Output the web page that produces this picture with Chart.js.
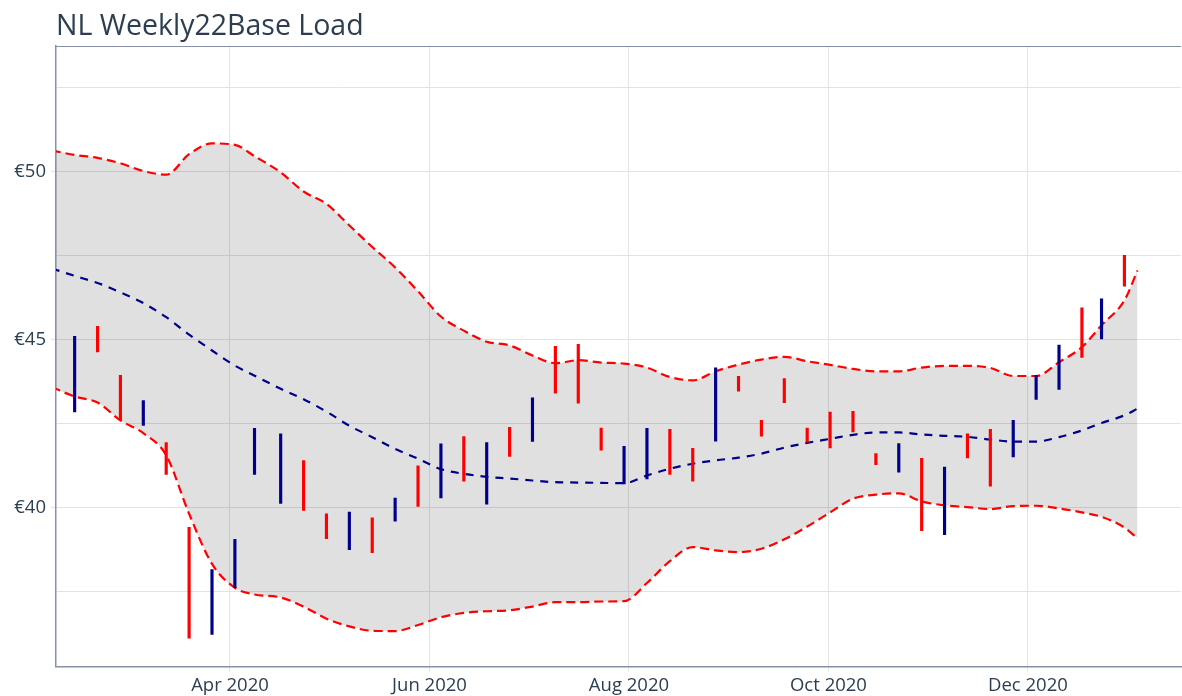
<!DOCTYPE html>
<html><head><meta charset="utf-8">
<script src="https://cdn.jsdelivr.net/npm/chart.js@4"></script>
<style>html,body{margin:0;padding:0;background:#fff}#wrap{width:1182px;height:696px;position:relative}</style>
</head><body><div id="wrap"><canvas id="c" width="1182" height="696"></canvas></div>
<script>
const chartTitle = "NL Weekly22Base Load";

// Weekly bars (high/low range) and direction
const barDates = ["2020-02-13","2020-02-20","2020-02-27","2020-03-05","2020-03-12","2020-03-19","2020-03-26","2020-04-02","2020-04-08","2020-04-16","2020-04-23","2020-04-30","2020-05-07","2020-05-14","2020-05-21","2020-05-28","2020-06-04","2020-06-11","2020-06-18","2020-06-25","2020-07-02","2020-07-09","2020-07-16","2020-07-23","2020-07-30","2020-08-06","2020-08-13","2020-08-20","2020-08-27","2020-09-03","2020-09-10","2020-09-17","2020-09-24","2020-10-01","2020-10-08","2020-10-15","2020-10-22","2020-10-29","2020-11-05","2020-11-12","2020-11-19","2020-11-26","2020-12-03","2020-12-10","2020-12-17","2020-12-23","2020-12-30"];
const barHighs = [45.09,45.39,43.93,43.18,41.93,39.41,38.15,39.05,42.35,42.19,41.39,39.81,39.86,39.69,40.28,41.24,41.89,42.11,41.93,42.38,43.26,44.79,44.85,42.36,41.82,42.35,42.32,41.76,44.15,43.90,42.59,43.83,42.36,42.84,42.86,41.60,41.90,41.46,41.20,42.19,42.32,42.59,43.93,44.83,45.94,46.21,47.50];
const barLows  = [42.84,44.63,42.59,42.44,40.98,36.11,36.22,37.61,40.98,40.12,39.91,39.07,38.74,38.65,39.59,40.03,40.28,40.78,40.10,41.52,41.96,43.40,43.10,41.70,40.70,40.85,40.98,40.78,41.97,43.46,42.12,43.12,41.94,41.77,42.25,41.27,41.05,39.31,39.19,41.47,40.63,41.50,43.21,43.51,44.46,45.01,46.58];
const barMoves = ["up","down","down","up","down","down","up","up","up","up","down","down","up","down","up","down","up","down","up","down","up","down","down","down","up","up","down","down","up","down","down","down","down","down","down","down","up","down","up","down","down","up","up","up","down","up","down"];

// Band (upper / middle / lower)
const bandDates = ["2020-02-06","2020-02-13","2020-02-20","2020-02-27","2020-03-05","2020-03-12","2020-03-19","2020-03-26","2020-04-02","2020-04-08","2020-04-16","2020-04-23","2020-04-30","2020-05-07","2020-05-14","2020-05-21","2020-05-28","2020-06-04","2020-06-11","2020-06-18","2020-06-25","2020-07-02","2020-07-09","2020-07-16","2020-07-23","2020-07-30","2020-08-06","2020-08-13","2020-08-20","2020-08-27","2020-09-03","2020-09-10","2020-09-17","2020-09-24","2020-10-01","2020-10-08","2020-10-15","2020-10-22","2020-10-29","2020-11-05","2020-11-12","2020-11-19","2020-11-26","2020-12-03","2020-12-10","2020-12-17","2020-12-23","2020-12-30","2021-01-03"];
const bandUpper  = [50.62,50.49,50.40,50.24,50.01,49.90,50.51,50.83,50.79,50.45,49.97,49.40,49.03,48.39,47.75,47.14,46.43,45.68,45.26,44.93,44.82,44.52,44.29,44.38,44.31,44.28,44.16,43.88,43.78,44.05,44.25,44.40,44.48,44.35,44.24,44.12,44.05,44.05,44.16,44.21,44.21,44.15,43.91,43.91,44.32,44.77,45.42,46.16,47.05];
const bandMiddle = [47.11,46.89,46.68,46.40,46.08,45.66,45.14,44.67,44.22,43.92,43.53,43.22,42.85,42.43,42.09,41.74,41.45,41.14,41.00,40.91,40.86,40.80,40.75,40.74,40.73,40.72,40.95,41.15,41.30,41.40,41.48,41.60,41.78,41.92,42.04,42.16,42.23,42.23,42.17,42.13,42.10,42.02,41.96,41.96,42.09,42.29,42.51,42.74,42.94];
const bandLower  = [43.58,43.30,43.12,42.59,42.21,41.55,39.81,38.32,37.61,37.41,37.32,37.05,36.69,36.46,36.33,36.32,36.50,36.73,36.86,36.91,36.94,37.05,37.18,37.18,37.20,37.21,37.75,38.40,38.82,38.72,38.67,38.77,39.05,39.43,39.85,40.26,40.38,40.42,40.18,40.06,40.01,39.95,40.04,40.05,39.97,39.85,39.72,39.40,39.08];

// Axis ticks
const xTickDates  = ["2020-04-01","2020-06-01","2020-08-01","2020-10-01","2020-12-01"];
const xTickLabels = ["Apr 2020","Jun 2020","Aug 2020","Oct 2020","Dec 2020"];
const yTickValues = [37.5,40,42.5,45,47.5,50,52.5];
const yTickLabels = ["","€40","","€45","","€50",""];

const DAY0 = Date.UTC(2020,0,1);
function dayNum(s){const p=s.split('-').map(Number);return (Date.UTC(p[0],p[1]-1,p[2])-DAY0)/864e5;}
const mid = s => dayNum(s) + 0.5;

const RED = '#ff0000', NAVY = '#00008b';
const TXT = '#2c3e50', AXIS = '#8591a3', GRID = '#e3e3e3';

const barData = barDates.map((d,i)=>({x: mid(d), y: [barLows[i], barHighs[i]]}));
const line = arr => bandDates.map((d,i)=>({x: mid(d), y: arr[i]}));

const titlePlugin = {
  id: 'titleAndFrame',
  afterDraw(chart){
    const {ctx, chartArea:a} = chart;
    ctx.save();
    ctx.strokeStyle = AXIS; ctx.lineWidth = 1.2;
    ctx.beginPath(); ctx.moveTo(a.left, a.top + 0.5); ctx.lineTo(a.right, a.top + 0.5); ctx.stroke();
    ctx.font = '28.5px "Open Sans"'; ctx.fillStyle = TXT; ctx.textBaseline = 'alphabetic'; ctx.textAlign = 'left';
    ctx.fillText(chartTitle, 56, 35);
    ctx.restore();
  }
};

new Chart(document.getElementById('c'), {
  type: 'bar',
  data: {
    datasets: [
      {type:'bar', data: barData, backgroundColor: barMoves.map(m => m === 'up' ? NAVY : RED), borderWidth: 0, barThickness: 2.5, order: 0},
      {type:'line', data: line(bandUpper), borderColor: RED, borderWidth: 2.2, borderDash: [9,5], pointRadius: 0, fill: 3, backgroundColor: 'rgba(0,0,0,0.122)', cubicInterpolationMode: 'monotone', order: 1},
      {type:'line', data: line(bandMiddle), borderColor: NAVY, borderWidth: 2.2, borderDash: [8,7], pointRadius: 0, fill: false, cubicInterpolationMode: 'monotone', order: 2},
      {type:'line', data: line(bandLower), borderColor: RED, borderWidth: 2.2, borderDash: [9,5], pointRadius: 0, fill: false, cubicInterpolationMode: 'monotone', order: 3}
    ]
  },
  options: {
    responsive: false, animation: false, devicePixelRatio: 1,
    layout: {padding: {top: 46, right: 1, bottom: 0, left: 0}},
    plugins: {legend: {display: false}, tooltip: {enabled: false}, title: {display: false}, filler: {drawTime: 'beforeDatasetsDraw'}},
    scales: {
      x: {
        type: 'linear', min: 37.8, max: 381.8, offset: false,
        afterBuildTicks: s => { s.ticks = xTickDates.map(d => ({value: dayNum(d)})); },
        afterFit: s => { s.height = 29.3; },
        ticks: {callback: (v,i) => xTickLabels[i], color: TXT, font: {family: 'Open Sans', size: 18.5}, maxRotation: 0, autoSkip: false, padding: 3},
        grid: {color: GRID, tickLength: 5, offset: false, lineWidth: 1},
        border: {color: AXIS, width: 1.5}
      },
      y: {
        type: 'linear', min: 35.26, max: 53.73,
        afterBuildTicks: s => { s.ticks = yTickValues.map(v => ({value: v})); },
        afterFit: s => { s.width = 56; },
        ticks: {callback: (v,i) => yTickLabels[i], color: TXT, font: {family: 'Open Sans', size: 18.5}, padding: 5},
        grid: {color: GRID, tickLength: 5, lineWidth: 1, tickColor: c => (yTickLabels[c.index] ? GRID : 'rgba(0,0,0,0)')},
        border: {color: AXIS, width: 1.5}
      }
    }
  },
  plugins: [titlePlugin]
});
</script></body></html>
